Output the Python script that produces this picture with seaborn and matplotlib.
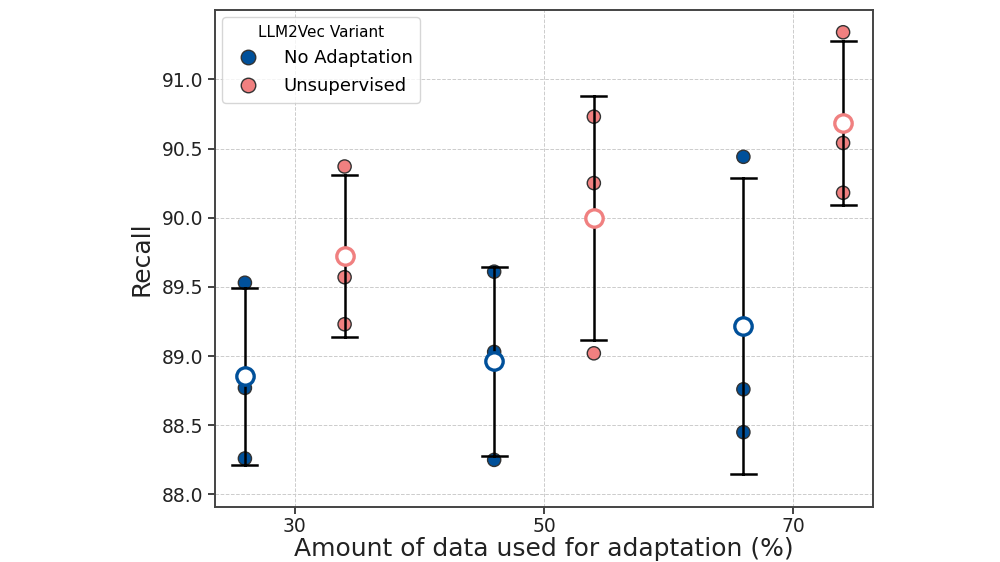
import numpy as np
import pandas as pd
import matplotlib
matplotlib.use("Agg")
import matplotlib.pyplot as plt
import seaborn as sns

# Datos (3 semillas por combinación)
PCTS = ["30", "50", "70"]
VARIANTS = ["No Adaptation", "Unsupervised"]
RECALL_NO_ADAPT = {
    "30": [89.53, 88.77, 88.26],
    "50": [89.61, 89.03, 88.25],
    "70": [90.44, 88.76, 88.45],
}
RECALL_UNSUP = {
    "30": [90.37, 89.57, 89.23],
    "50": [90.73, 90.25, 89.02],
    "70": [91.34, 90.54, 90.18],
}

PALETTE = {
    "No Adaptation": "#00509A",
    "Unsupervised": "#F08080",
}

rows = []
for variant, table in [("No Adaptation", RECALL_NO_ADAPT), ("Unsupervised", RECALL_UNSUP)]:
    for pct in PCTS:
        for v in table[pct]:
            rows.append({"pct": pct, "variant": variant, "recall": v})
df = pd.DataFrame(rows)

fig = plt.figure(figsize=(10, 5.62), dpi=100)
ax = fig.add_axes([0.215, 0.098, 0.658, 0.884])

# Puntos individuales por semilla
sns.stripplot(
    data=df, x="pct", y="recall", hue="variant", order=PCTS, hue_order=VARIANTS,
    palette=PALETTE, dodge=True, jitter=False, size=9.5,
    edgecolor="#333333", linewidth=1, ax=ax, zorder=2,
)

# Media ± desviación estándar
sns.pointplot(
    data=df, x="pct", y="recall", hue="variant", order=PCTS, hue_order=VARIANTS,
    palette=PALETTE, dodge=0.4, errorbar="sd", capsize=0.1, linestyle="none",
    markers="o", markersize=12.5, markerfacecolor="white", markeredgewidth=2.4,
    err_kws={"color": "black", "linewidth": 1.8, "zorder": 3},
    legend=False, ax=ax, zorder=4,
)

ax.set_xlim(-0.32, 2.32)
ax.set_ylim(87.91, 91.5)
ax.set_yticks([88.0, 88.5, 89.0, 89.5, 90.0, 90.5, 91.0])
ax.set_yticklabels([f"{t:.1f}" for t in ax.get_yticks()])
ax.tick_params(axis="both", labelsize=13.5, colors="#222222", length=5, width=1.2)
ax.tick_params(axis="x", pad=2)
ax.set_xlabel("Amount of data used for adaptation (%)", fontsize=18, color="#222222", labelpad=1)
ax.set_ylabel("Recall", fontsize=18, color="#222222", labelpad=6)

ax.grid(True, linestyle="--", linewidth=0.7, color="#cccccc")
ax.set_axisbelow(True)
for sp in ax.spines.values():
    sp.set_color("#444444")
    sp.set_linewidth(1.4)

leg = ax.legend(title="LLM2Vec Variant", loc="upper left", fontsize=13,
                title_fontsize=11, frameon=True, handletextpad=1.0,
                labelspacing=0.55, markerscale=1.1, borderaxespad=0.4)
leg.get_frame().set_edgecolor("#cccccc")

fig.savefig("out.png", dpi=100)
